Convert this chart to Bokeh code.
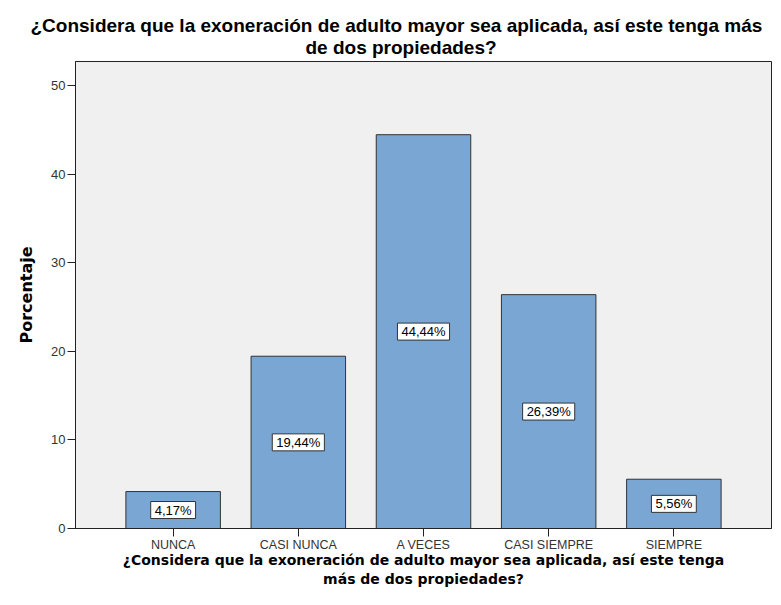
from bokeh.plotting import figure
from bokeh.models import FactorRange, Range1d, ColumnDataSource, FixedTicker, Title
from bokeh.core.properties import value
from bokeh.embed import file_html
from bokeh.resources import INLINE

categories = ["NUNCA", "CASI NUNCA", "A VECES", "CASI SIEMPRE", "SIEMPRE"]
percentages = [4.17, 19.44, 44.44, 26.39, 5.56]
pct_labels = ["4,17%", "19,44%", "44,44%", "26,39%", "5,56%"]
y_ticks = [0, 10, 20, 30, 40, 50]
title_line1 = "¿Considera que la exoneración de adulto mayor sea aplicada, así este tenga más"
title_line2 = "de dos propiedades?"
xlabel = "¿Considera que la exoneración de adulto mayor sea aplicada, así este tenga\nmás de dos propiedades?"
ylabel = "Porcentaje"

src = ColumnDataSource(dict(
    cat=categories,
    pct=percentages,
    mid=[v / 2 for v in percentages],
    lab=pct_labels,
))

p = figure(
    width=773, height=589,
    x_range=FactorRange(factors=categories, range_padding=0.28, range_padding_units="absolute"),
    y_range=Range1d(0, 52.7),
    output_backend="svg", toolbar_location=None,
    min_border_left=75, min_border_right=2, min_border_top=61, min_border_bottom=57,
)
p.background_fill_color = "#F0F0F0"
p.border_fill_color = "white"
p.outline_line_color = "#222222"
p.outline_line_width = 1
p.grid.visible = False

p.vbar(x="cat", top="pct", width=0.755, source=src,
       fill_color="#79A6D3", line_color="#333333", line_width=1)

p.text(x="cat", y="mid", text="lab", source=src,
       text_align="center", text_baseline="middle",
       text_font=value("Liberation Sans"), text_font_size="13px", text_color="black",
       background_fill_color="white", border_line_color="#333333", border_line_width=1,
       padding=(4, 1))

# title: two single-line titles (second line is nearest the frame)
t2 = Title(text=title_line2, align="left", offset=230, vertical_align="top", standoff=3,
           text_font="Liberation Sans", text_font_size="19px", text_font_style="bold",
           text_color="black")
t1 = Title(text=title_line1, align="left", offset=-45, vertical_align="bottom", standoff=0,
           text_font="Liberation Sans", text_font_size="19px", text_font_style="bold",
           text_color="black")
p.add_layout(t2, "above")
p.add_layout(t1, "above")

# y axis
p.yaxis.ticker = FixedTicker(ticks=y_ticks)
p.yaxis.minor_tick_line_color = None
p.yaxis.major_tick_in = 0
p.yaxis.major_tick_out = 8
p.yaxis.axis_line_color = "#222222"
p.yaxis.major_tick_line_color = "#222222"
p.yaxis.major_label_text_font = "Liberation Sans"
p.yaxis.major_label_text_font_size = "13px"
p.yaxis.major_label_text_color = "#333333"
p.yaxis.major_label_standoff = 2
p.yaxis.axis_label = ylabel
p.yaxis.axis_label_text_font = "DejaVu Sans"
p.yaxis.axis_label_text_font_size = "16px"
p.yaxis.axis_label_text_font_style = "bold"
p.yaxis.axis_label_text_color = "black"
p.yaxis.axis_label_standoff = 12

# x axis
p.xaxis.axis_line_color = "#222222"
p.xaxis.major_tick_in = 0
p.xaxis.major_tick_out = 8
p.xaxis.major_tick_line_color = "#222222"
p.xaxis.major_label_text_font = "Liberation Sans"
p.xaxis.major_label_text_font_size = "12.5px"
p.xaxis.major_label_text_color = "#333333"
p.xaxis.major_label_standoff = 1
p.xaxis.axis_label = xlabel
p.xaxis.axis_label_text_font = "DejaVu Sans"
p.xaxis.axis_label_text_font_size = "14px"
p.xaxis.axis_label_text_font_style = "bold"
p.xaxis.axis_label_text_color = "black"
p.xaxis.axis_label_standoff = -3

open("out.html", "w").write(file_html(p, INLINE))
